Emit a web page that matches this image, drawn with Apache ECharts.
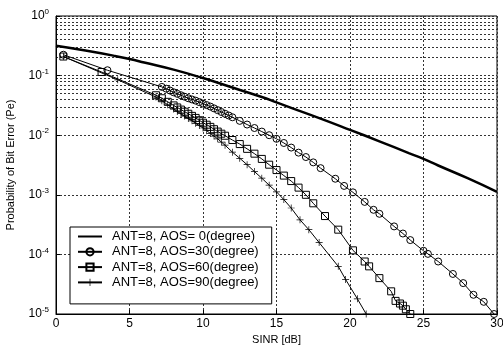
<!DOCTYPE html>
<html>
<head>
<meta charset="utf-8">
<script src="https://cdn.jsdelivr.net/npm/echarts@6/dist/echarts.min.js"></script>
<style>
  html, body { margin: 0; padding: 0; background: #fff; }
  #chart { width: 503px; height: 349px; }
</style>
</head>
<body>
<div id="chart"></div>
<script>
const legendNames = [
  'ANT=8, AOS= 0(degree)',
  'ANT=8, AOS=30(degree)',
  'ANT=8, AOS=60(degree)',
  'ANT=8, AOS=90(degree)',
]

// AOS = 0 (thick line, no markers)
const aos0X = [0, 2, 4, 5, 6, 8, 10, 12, 14, 15, 16, 18, 20, 22, 24, 25, 26, 28, 30]
const aos0Y = [0.316, 0.263, 0.214, 0.19, 0.166, 0.126, 0.091, 0.063, 0.0437, 0.0355, 0.0288, 0.019, 0.0123, 0.0079, 0.005, 0.004, 0.0031, 0.0019, 0.00112]

// AOS = 30 (circles)
const aos30X = [0.5, 3.5, 7.2, 7.5, 7.75, 8, 8.25, 8.5, 8.75, 9, 9.25, 9.5, 9.75, 10, 10.25, 10.5, 10.75, 11, 11.25, 11.5, 11.75, 12, 12.5, 13, 13.5, 14, 14.5, 15, 15.5, 16, 16.5, 17, 17.5, 18, 19, 19.6, 20.2, 21, 21.6, 22, 23, 23.6, 24.1, 25, 25.3, 26, 27, 27.7, 28.4, 29.1, 29.8]
const aos30Y = [0.224, 0.123, 0.0646, 0.0603, 0.0562, 0.0525, 0.0495, 0.0468, 0.0442, 0.0417, 0.0398, 0.038, 0.0359, 0.0339, 0.032, 0.0302, 0.0282, 0.0263, 0.0245, 0.0229, 0.0214, 0.02, 0.0174, 0.0151, 0.0132, 0.0115, 0.01, 0.0087, 0.0074, 0.0062, 0.0051, 0.0043, 0.0035, 0.0028, 0.00186, 0.00141, 0.0011, 0.00076, 0.00056, 0.00048, 0.000295, 0.000224, 0.000174, 0.000115, 0.000102, 7.6e-5, 4.7e-5, 3.3e-5, 2.1e-5, 1.6e-5, 1.0e-5]

// AOS = 60 (squares)
const aos60X = [0.5, 3.1, 6.8, 7.2, 7.6, 8, 8.25, 8.5, 8.75, 9, 9.25, 9.5, 9.75, 10, 10.25, 10.5, 10.75, 11, 11.25, 11.5, 12, 12.5, 13, 13.5, 14, 14.5, 15, 15.5, 16, 16.5, 17, 17.5, 18.3, 19.2, 20.2, 21, 21.3, 22, 22.8, 23.1, 23.4, 23.6, 23.8, 24.1]
const aos60Y = [0.209, 0.115, 0.0468, 0.0417, 0.0363, 0.0316, 0.0292, 0.0269, 0.0248, 0.0229, 0.0211, 0.0195, 0.0178, 0.0162, 0.015, 0.0138, 0.0126, 0.0115, 0.0106, 0.0098, 0.0083, 0.0071, 0.0059, 0.0049, 0.004, 0.0032, 0.0026, 0.0021, 0.0017, 0.00132, 0.001, 0.00072, 0.00044, 0.00026, 0.000117, 7.6e-5, 6.3e-5, 4.0e-5, 2.4e-5, 1.66e-5, 1.5e-5, 1.38e-5, 1.2e-5, 1.0e-5]

// AOS = 90 (plus)
const aos90X = [0.5, 4.2, 6.8, 7.2, 7.6, 8, 8.25, 8.5, 8.75, 9, 9.25, 9.5, 9.75, 10, 10.25, 10.5, 10.75, 11, 11.25, 11.5, 12, 12.5, 13, 13.5, 14, 14.5, 15, 15.5, 16, 16.6, 17.2, 17.9, 19.2, 19.7, 20.5, 21.1]
const aos90Y = [0.209, 0.085, 0.0437, 0.038, 0.0324, 0.0275, 0.0251, 0.0229, 0.0209, 0.019, 0.0174, 0.0158, 0.0145, 0.0132, 0.0119, 0.0107, 0.00966, 0.0087, 0.00767, 0.0068, 0.0052, 0.0041, 0.0032, 0.00245, 0.0019, 0.00145, 0.00112, 0.00083, 0.0006, 0.00038, 0.00026, 0.000158, 6.3e-5, 3.8e-5, 1.8e-5, 1.0e-5]

const xTicks = [0, 5, 10, 15, 20, 25, 30]
const yDecades = [-5, -4, -3, -2, -1, 0]

const zip = (xs, ys) => xs.map((x, i) => [x, ys[i]])

// minor log grid lines (2..9 in each decade)
const minorLines = []
yDecades.slice(0, -1).forEach(e => {
  for (let k = 2; k <= 9; k++) minorLines.push({ yAxis: k * Math.pow(10, e) })
})

const font = 'Liberation Sans, Arial, sans-serif'
const gridDot = { color: '#333', width: 1, type: [2, 2] }
const hollow = { color: 'rgba(0,0,0,0)', borderColor: '#000', borderWidth: 1 }
const plusPath = 'path://M0,4.5 H10 V5.5 H0 Z M4.5,0 H5.5 V10 H4.5 Z'

const chart = echarts.init(document.getElementById('chart'))

chart.setOption({
  animation: false,
  textStyle: { fontFamily: font, color: '#000' },
  grid: {
    left: 56, right: 6, top: 16, bottom: 35,
    outerBoundsMode: 'none',
    containLabel: false,
    show: true, borderColor: '#000', borderWidth: 1,
  },
  legend: {
    data: legendNames,
    orient: 'vertical',
    left: 70,
    top: 227,
    itemWidth: 24,
    itemHeight: 9,
    itemGap: 2.3,
    padding: [3, 13, 15, 7],
    backgroundColor: '#fff',
    borderColor: '#000',
    borderWidth: 1,
    borderRadius: 0,
    textStyle: { fontFamily: font, fontSize: 13, lineHeight: 12, color: '#000', padding: [0, 0, 0, 5] },
  },
  xAxis: {
    type: 'value',
    min: xTicks[0],
    max: xTicks[xTicks.length - 1],
    interval: 5,
    name: 'SINR [dB]',
    nameLocation: 'middle',
    nameGap: 20,
    nameTextStyle: { fontSize: 11, color: '#000' },
    axisLine: { onZero: false, lineStyle: { color: '#000' } },
    axisTick: { inside: true, length: 4, lineStyle: { color: '#000' } },
    axisLabel: { fontSize: 12, color: '#000', margin: 4 },
    splitLine: { show: true, lineStyle: gridDot },
  },
  yAxis: {
    type: 'log',
    logBase: 10,
    min: Math.pow(10, yDecades[0]),
    max: Math.pow(10, yDecades[yDecades.length - 1]),
    name: 'Probability of Bit Error (Pe)',
    nameLocation: 'middle',
    nameGap: 40,
    nameTextStyle: { fontSize: 11, color: '#000' },
    axisLine: { lineStyle: { color: '#000' } },
    axisTick: { inside: true, length: 4, lineStyle: { color: '#000' } },
    axisLabel: {
      margin: 7,
      formatter: v => '{b|10}{e|' + Math.round(Math.log10(v)) + '}',
      rich: {
        b: { fontSize: 12, color: '#000', fontFamily: font },
        e: { fontSize: 8, color: '#000', fontFamily: font, padding: [0, 0, 8, 0] },
      },
    },
    splitLine: { show: true, lineStyle: gridDot },
  },
  series: [
    {
      name: legendNames[0],
      type: 'line',
      data: zip(aos0X, aos0Y),
      symbol: 'circle',
      showSymbol: false,
      smooth: true,
      lineStyle: { color: '#000', width: 2.5 },
      itemStyle: { color: 'rgba(0,0,0,0)', borderWidth: 0 },
      markLine: {
        silent: true,
        symbol: 'none',
        label: { show: false },
        lineStyle: gridDot,
        data: minorLines,
        z: 0,
      },
      z: 3,
    },
    {
      name: legendNames[1],
      type: 'line',
      data: zip(aos30X, aos30Y),
      symbol: 'circle',
      symbolSize: 7,
      lineStyle: { color: '#000', width: 1 },
      itemStyle: hollow,
    },
    {
      name: legendNames[2],
      type: 'line',
      data: zip(aos60X, aos60Y),
      symbol: 'rect',
      symbolSize: 7,
      lineStyle: { color: '#000', width: 1 },
      itemStyle: hollow,
    },
    {
      name: legendNames[3],
      type: 'line',
      data: zip(aos90X, aos90Y),
      symbol: plusPath,
      symbolSize: 7,
      lineStyle: { color: '#000', width: 1 },
      itemStyle: { color: '#000' },
    },
  ],
})

window.addEventListener('resize', () => chart.resize())
</script>
</body>
</html>
